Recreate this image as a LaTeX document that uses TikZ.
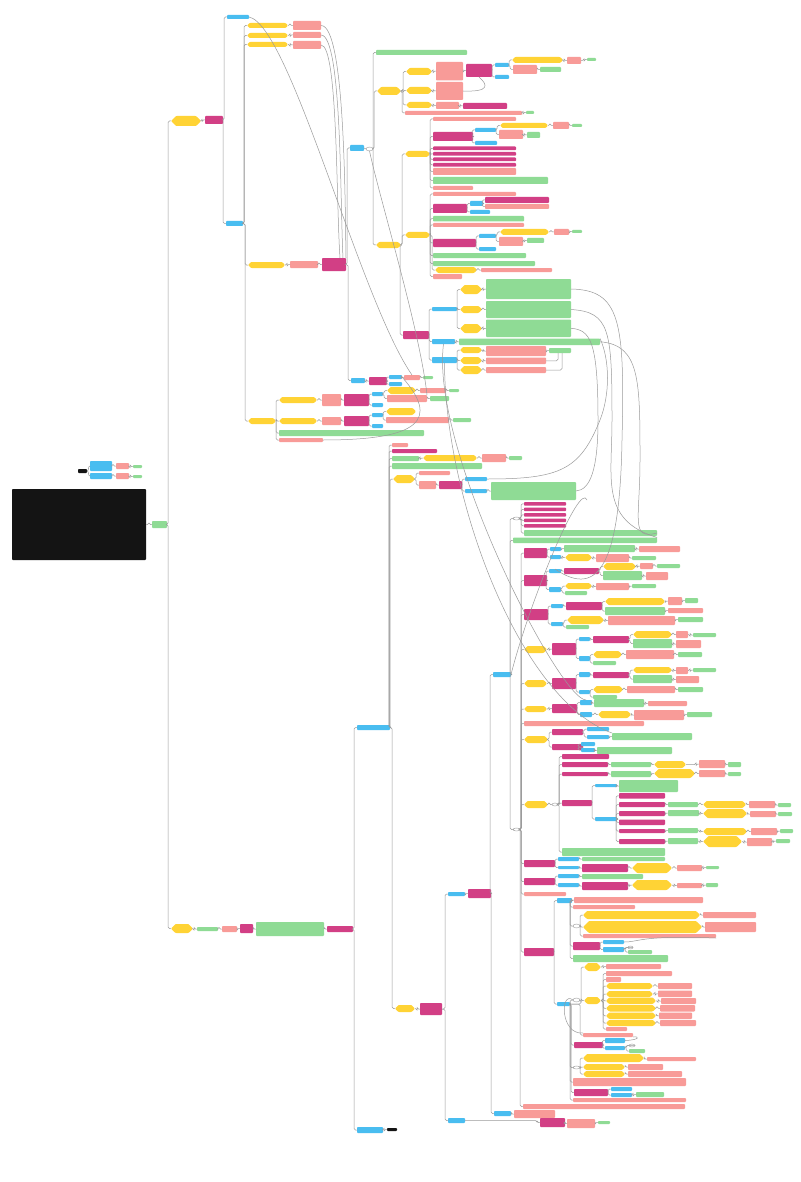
\documentclass[tikz,border=0pt]{standalone}
\usetikzlibrary{shapes.symbols,shapes.geometric,calc}
\definecolor{ylw}{HTML}{FFD335}
\definecolor{slm}{HTML}{F89B98}
\definecolor{grn}{HTML}{8FDB95}
\definecolor{blu}{HTML}{49BDF0}
\definecolor{mag}{HTML}{D23F85}
\definecolor{blk}{HTML}{141414}
\definecolor{lnc}{HTML}{9A9A9A}
\tikzset{
 bx/.style={inner sep=0pt,outer sep=0pt,rounded corners=0.8pt},
 Y/.style={bx,fill=ylw,shape=signal,signal to=east and west},
 P/.style={bx,fill=slm,rectangle},
 G/.style={bx,fill=grn,rectangle},
 C/.style={bx,fill=blu,rectangle},
 M/.style={bx,fill=mag,rectangle},
 K/.style={bx,fill=blk,rectangle},
 E/.style={inner sep=0pt,outer sep=0pt,ellipse,draw=lnc,line width=0.4pt,fill=white},
 cn/.style={draw=lnc,line width=0.5pt,rounded corners=1.5pt},
 cv/.style={draw=lnc,line width=0.5pt},
}
\newcommand\nd[6]{\node[#1,minimum width=#5pt,minimum height=#6pt] (#2) at ({#3+#5/2},{-#4-#6/2}) {};}
\newcommand\cc[2]{\draw[cn] (#1.east) -| ($(#2.west)+(-3,0)$) -- (#2.west);}
\newcommand\cm[2]{\foreach \cx in {#2}{\cc{#1}{\cx}}}
\begin{document}
\begin{tikzpicture}[x=1pt,y=1pt]
\fill[white] (0,0) rectangle (800,-1182);
\useasboundingbox (0,0) rectangle (800,-1182);
% ---------- left
\nd{K}{k0}{78}{469}{9}{4}
\nd{C}{c1}{90}{461}{22}{10}
\nd{C}{c2}{90}{473}{22}{6}
\nd{P}{p1}{116}{463}{13}{6}
\nd{P}{p2}{116}{473}{13}{6}
\nd{G}{g1}{133}{465}{9}{3}
\nd{G}{g2}{133}{475}{9}{3}
\nd{K}{kb}{12}{489}{134}{71}
\nd{G}{r}{152}{521}{15}{7}
\draw[cv] (k0.east) to[out=0,in=180] (c1.west);
\draw[cv] (k0.east) to[out=0,in=180] (c2.west);
\cm{c1}{p1}\cm{c2}{p2}\cm{p1}{g1}\cm{p2}{g2}
\cc{kb}{r}
\nd{Y}{yA}{171}{116}{30}{10}
\nd{Y}{yB}{171}{924}{22}{9}
\cm{r}{yA,yB}
% ---------- upper branch
\nd{M}{mA}{205}{116}{18}{8}
\cc{yA}{mA}
\nd{C}{cT}{227}{15}{22}{4}
\nd{C}{cU}{226}{221}{17}{5}
\cm{mA}{cT,cU}
\nd{Y}{yC}{248}{262}{37}{6}
\nd{Y}{yD}{248}{418}{28}{6}
\nd{Y}{y1}{247}{23}{41}{5}
\nd{Y}{y2}{247}{33}{41}{5}
\nd{Y}{y3}{247}{42}{41}{5}
\cm{cU}{y1,y2,y3,yC,yD}
\nd{P}{q1}{293}{21}{28}{9}
\nd{P}{q2}{293}{32}{28}{6}
\nd{P}{q3}{293}{41}{28}{8}
\cc{y1}{q1}\cc{y2}{q2}\cc{y3}{q3}
\nd{P}{pC}{290}{261}{28}{7}
\nd{M}{mC}{322}{258}{24}{13}
\cc{yC}{pC}\cc{pC}{mC}
\draw[cv] (q1.east) .. controls (345,-25) and (345,-200) .. (mC.north east);
\draw[cv] (q2.east) .. controls (342,-35) and (340,-200) .. ([xshift=-3pt]mC.north east);
\draw[cv] (q3.east) .. controls (338,-45) and (336,-200) .. ([xshift=-6pt]mC.north east);
\nd{C}{cV}{350}{145}{14}{6}
\nd{C}{cW}{351}{378}{14}{5}
\cm{mC}{cV,cW}
\nd{E}{e1}{366}{147}{7}{4}
\draw[cn] (cV.east) -- (e1.west);
\nd{G}{gA}{376}{50}{91}{5}
\nd{Y}{yE}{377}{87}{24}{8}
\nd{Y}{yF}{376}{242}{25}{6}
\cm{e1}{gA,yE,yF}
\nd{Y}{yE1}{406}{68}{26}{7}
\nd{Y}{yE2}{406}{87}{26}{7}
\nd{Y}{yE3}{406}{102}{26}{6}
\nd{P}{pE4}{405}{111}{117}{4}
\cm{yE}{yE1,yE2,yE3,pE4}
\nd{P}{pE1}{436}{62}{27}{18.5}
\nd{P}{pE2}{436}{82}{27}{18}
\nd{P}{pE3}{436}{102}{23}{7}
\cc{yE1}{pE1}\cc{yE2}{pE2}\cc{yE3}{pE3}
\nd{M}{mE1}{466}{64}{26}{13}
\nd{M}{mE3}{463}{103}{44}{6}
\cc{pE1}{mE1}\cc{pE3}{mE3}
\draw[cv] (pE2.east) .. controls (490,-92) and (488,-85) .. (mE1.south);
\nd{C}{cE1}{495}{63}{14}{4}
\nd{C}{cE2}{495}{75}{14}{4}
\cm{mE1}{cE1,cE2}
\nd{Y}{yE5}{512}{57}{51}{6}
\nd{P}{pE5}{513}{65}{24}{9}
\cm{cE1}{yE5,pE5}
\nd{P}{pE6}{567}{57}{14}{7}
\nd{G}{gE6}{587}{58}{9}{3}
\nd{G}{gE5}{540}{67}{21}{5}
\nd{G}{gE4}{526}{111}{8}{3}
\cc{yE5}{pE6}\cc{pE6}{gE6}\cc{pE5}{gE5}\cc{pE4}{gE4}
% yF subtree
\nd{Y}{yG}{405}{151}{25}{6}
\nd{Y}{yH}{405}{232}{25}{6}
\nd{M}{mX}{403}{331}{26}{8}
\cm{yF}{yG,yH,mX}
\nd{P}{pG0}{433}{117}{83}{4}
\nd{M}{mG1}{433}{132}{40}{9}
\nd{M}{mG2}{433}{146.5}{83}{3.6}
\nd{M}{mG3}{433}{152}{83}{3.6}
\nd{M}{mG4}{433}{157.5}{83}{3.6}
\nd{M}{mG5}{433}{163}{83}{3.6}
\nd{P}{pG6}{433}{168}{83}{7}
\nd{G}{gG7}{433}{177}{115}{7}
\nd{P}{pG8}{433}{186}{40}{4}
\cm{yG}{pG0,mG1,mG2,mG3,mG4,mG5,pG6,gG7,pG8}
\nd{C}{cG1}{475}{128}{21}{4}
\nd{C}{cG2}{475}{141}{22}{4}
\cm{mG1}{cG1,cG2}
\nd{Y}{yG1}{500}{123}{48}{5}
\nd{P}{pG1}{499}{130}{24}{9}
\cm{cG1}{yG1,pG1}
\nd{P}{pG2}{553}{122}{16}{7}
\nd{G}{gG2}{572}{124}{10}{3}
\nd{G}{gG1}{527}{132}{13}{6}
\cc{yG1}{pG2}\cc{pG2}{gG2}\cc{pG1}{gG1}
\nd{P}{pH0}{433}{192}{83}{4}
\nd{M}{mH1}{433}{204}{34}{9}
\nd{G}{gH2}{433}{216}{91}{5.5}
\nd{P}{pH3}{433}{223}{91}{4}
\nd{M}{mH4}{433}{239}{43}{8}
\nd{G}{gH5}{433}{253}{93}{5}
\nd{G}{gH6}{433}{261}{102}{5}
\nd{Y}{yH7}{435}{267}{42}{6}
\nd{P}{pH8}{433}{274}{29}{5}
\cm{yH}{pH0,mH1,gH2,pH3,mH4,gH5,gH6,yH7,pH8}
\nd{C}{cH1}{470}{201}{13}{5}
\nd{C}{cH2}{470}{210}{20}{4}
\cm{mH1}{cH1,cH2}
\nd{M}{mH5}{485}{197}{64}{6}
\nd{P}{pH5}{485}{204}{64}{5}
\cm{cH1}{mH5,pH5}
\nd{C}{cH3}{479}{234}{17}{4}
\nd{C}{cH4}{479}{247}{17}{4}
\cm{mH4}{cH3,cH4}
\nd{Y}{yH3}{500}{229}{49}{6}
\nd{P}{pH6}{499}{237}{24}{9}
\cm{cH3}{yH3,pH6}
\nd{P}{pH7}{554}{229}{15}{6}
\nd{G}{gH7}{572}{230}{10}{3}
\nd{G}{gH8}{527}{238}{17}{5}
\nd{P}{pH9}{481}{268}{71}{4}
\cc{yH3}{pH7}\cc{pH7}{gH7}\cc{pH6}{gH8}\cc{yH7}{pH9}
% mX subtree
\nd{C}{cX1}{432}{307}{25}{4}
\nd{C}{cX2}{432}{339}{23}{5}
\nd{C}{cX3}{432}{357}{25}{6}
\cm{mX}{cX1,cX2,cX3}
\nd{Y}{yX1}{460}{285}{22}{9}
\nd{Y}{yX2}{460}{306}{22}{7}
\nd{Y}{yX3}{460}{324}{22}{9}
\cm{cX1}{yX1,yX2,yX3}
\nd{G}{gX1}{486}{279}{85}{20}
\nd{G}{gX2}{486}{301}{85}{17}
\nd{G}{gX3}{486}{319.5}{85}{17.5}
\cc{yX1}{gX1}\cc{yX2}{gX2}\cc{yX3}{gX3}
\nd{G}{gX4}{459}{338.5}{141}{6.5}
\cc{cX2}{gX4}
\nd{Y}{yX4}{460}{347}{22}{6}
\nd{Y}{yX5}{460}{357}{22}{7}
\nd{Y}{yX6}{460}{366}{22}{8}
\cm{cX3}{yX4,yX5,yX6}
\nd{P}{pX4}{486}{346}{60}{10}
\nd{P}{pX5}{486}{357.5}{60}{6.5}
\nd{P}{pX6}{486}{367}{60}{6}
\cc{yX4}{pX4}\cc{yX5}{pX5}\cc{yX6}{pX6}
\nd{G}{gX5}{549}{348}{22}{5}
\cc{pX4}{gX5}
\draw[cn] (pX5.east) -| ($(gX5.south)+(-2,0)$);
\draw[cn] (pX6.east) -| ($(gX5.south)+(2,0)$);
% cW subtree
\nd{M}{mW}{369}{377}{18}{8}
\cc{cW}{mW}
\nd{C}{cW1}{389}{375}{13}{4}
\nd{C}{cW2}{389}{382}{13}{4}
\cm{mW}{cW1,cW2}
\nd{P}{pW}{404}{375}{16}{5}
\nd{G}{gW}{423}{376}{10}{3}
\cc{cW1}{pW}\cc{pW}{gW}
% yD subtree
\nd{Y}{yD1}{279}{397}{38}{6}
\nd{Y}{yD1b}{279}{418}{38}{6}
\nd{G}{gD}{279}{430}{145}{6}
\nd{P}{pD}{279}{438}{44}{4}
\cm{yD}{yD1,yD1b,gD,pD}
\nd{P}{pD1}{322}{394}{19}{12}
\nd{P}{pD1b}{322}{417}{19}{8}
\cc{yD1}{pD1}\cc{yD1b}{pD1b}
\nd{M}{mD1}{344}{394}{25}{12}
\nd{M}{mD2}{344}{416}{25}{10}
\cc{pD1}{mD1}\cc{pD1b}{mD2}
\nd{C}{cD1}{372}{392}{11}{4}
\nd{C}{cD2}{372}{403}{11}{4}
\cm{mD1}{cD1,cD2}
\nd{Y}{yD2}{387}{387}{29}{7}
\nd{P}{pD2}{387}{395}{40}{7}
\cm{cD1}{yD2,pD2}
\nd{P}{pD3}{420}{388}{26}{5}
\nd{G}{gD3}{449}{389}{10}{3}
\nd{G}{gD4}{430}{396}{19}{5}
\cc{yD2}{pD3}\cc{pD3}{gD3}\cc{pD2}{gD4}
\nd{C}{cD3}{372}{413}{11}{4}
\nd{C}{cD4}{372}{424}{11}{4}
\cm{mD2}{cD3,cD4}
\nd{Y}{yD3}{386}{408}{30}{7}
\nd{P}{pD4}{386}{417}{63}{6}
\cm{cD3}{yD3,pD4}
\nd{G}{gD5}{453}{418}{18}{4}
\cc{pD4}{gD5}
% ---------- lower branch
\nd{G}{gB}{197}{927}{21}{4}
\nd{P}{pB}{222}{926}{15}{6}
\nd{M}{mB}{240}{924}{13}{9}
\nd{G}{gBB}{256}{922}{68}{14}
\nd{M}{mBB}{327}{926}{26}{6}
\cc{yB}{gB}\cc{gB}{pB}\cc{pB}{mB}\cc{mB}{gBB}\cc{gBB}{mBB}
\nd{C}{cM}{357}{725}{33}{5}
\nd{C}{cN}{357}{1127}{26}{6}
\cm{mBB}{cM,cN}
\nd{K}{kN}{387}{1128}{10}{3}
\cc{cN}{kN}
\nd{P}{pM1}{392}{443}{16}{4}
\nd{M}{mM2}{392}{449}{45}{4}
\nd{G}{gM3}{392}{456}{27}{5}
\nd{G}{gM4}{392}{463}{90}{6}
\nd{Y}{yM5}{393}{475}{22}{8}
\nd{Y}{yM6}{395}{1005}{20}{7}
\cm{cM}{pM1,mM2,gM3,gM4,yM5,yM6}
\nd{Y}{yM3}{423}{455}{54}{6}
\nd{P}{pM3}{482}{454}{24}{8}
\nd{G}{gM3b}{509}{456}{13}{4}
\cc{gM3}{yM3}\cc{yM3}{pM3}\cc{pM3}{gM3b}
\nd{P}{pM5a}{419}{471}{31}{4}
\nd{P}{pM5b}{419}{481}{17}{8}
\cm{yM5}{pM5a,pM5b}
\nd{M}{mM5}{439}{481}{23}{8}
\cc{pM5b}{mM5}
\nd{C}{cM5a}{465}{477}{22}{4}
\nd{C}{cM5b}{465}{489}{22}{4}
\cm{mM5}{cM5a,cM5b}
\nd{G}{gM5}{491}{482}{85}{18}
\cc{cM5b}{gM5}
\nd{M}{mM6}{420}{1003}{22}{12}
\cc{yM6}{mM6}
\nd{C}{cQ}{448}{892}{17}{4}
\nd{C}{cQ2}{448}{1118}{17}{5}
\cm{mM6}{cQ,cQ2}
\nd{M}{mQ}{468}{889}{23}{9}
\cc{cQ}{mQ}
\nd{C}{cR}{493}{672}{18}{5}
\nd{C}{cR2}{494}{1111}{17}{5}
\cm{mQ}{cR,cR2}
\nd{P}{pR2}{514}{1110}{41}{8}
\cc{cR2}{pR2}
\nd{M}{mQ2}{540}{1118}{25}{9}
\nd{P}{pQ2}{567}{1119}{28}{9}
\nd{G}{gQ2}{598}{1121}{12}{3}
\cc{cQ2}{mQ2}\cc{mQ2}{pQ2}\cc{pQ2}{gQ2}
\nd{E}{e2}{513}{517}{7}{3}
\nd{G}{gR1}{513}{537.5}{144}{5.5}
\nd{E}{e3}{513}{828}{7}{3}
\cm{cR}{e2,gR1,e3}
\nd{M}{mR1}{524}{502}{42}{3.6}
\nd{M}{mR2}{524}{507.5}{42}{3.6}
\nd{M}{mR3}{524}{513}{42}{3.6}
\nd{M}{mR4}{524}{518.5}{42}{3.6}
\nd{M}{mR5}{524}{524}{42}{3.6}
\nd{G}{gR0}{524}{530}{133}{6}
\cm{e2}{mR1,mR2,mR3,mR4,mR5,gR0}
\nd{M}{mS1}{524}{548}{23}{10}
\nd{M}{mS2}{524}{575}{23}{11}
\nd{M}{mS3}{524}{609}{24}{11}
\nd{Y}{yS4}{524}{646}{23}{7}
\nd{Y}{yS5}{524}{680}{23}{7}
\nd{Y}{yS6}{524}{706}{23}{6}
\nd{P}{pS7}{524}{721}{120}{5}
\nd{Y}{yS8}{524}{736}{24}{7}
\nd{Y}{yS9}{524}{801}{24}{7}
\nd{M}{mS10}{524}{860}{31}{7}
\nd{M}{mS11}{524}{878}{31}{7}
\nd{P}{pS12}{524}{892}{42}{4}
\nd{M}{mS13}{524}{948}{30}{8}
\nd{P}{pS14}{523}{1104}{162}{5}
\cm{e3}{mS1,mS2,mS3,yS4,yS5,yS6,pS7,yS8,yS9,mS10,mS11,pS12,mS13,pS14}
% mS1
\nd{C}{cS1a}{550}{547}{11}{4}
\nd{C}{cS1b}{550}{555}{11}{4}
\cm{mS1}{cS1a,cS1b}
\nd{G}{gS1}{564}{545}{71}{7}
\nd{P}{pS1}{639}{546}{41}{6}
\cc{cS1a}{gS1}\cc{gS1}{pS1}
\nd{Y}{yS1}{565}{554}{27}{7}
\nd{P}{pS1b}{596}{554}{33}{8}
\nd{G}{gS1b}{632}{556}{24}{4}
\cc{cS1b}{yS1}\cc{yS1}{pS1b}\cc{pS1b}{gS1b}
% mS2
\nd{C}{cS2a}{549}{569}{12}{4}
\nd{C}{cS2b}{549}{587}{12}{5}
\cm{mS2}{cS2a,cS2b}
\nd{M}{mS2a}{564}{568}{35}{6}
\cc{cS2a}{mS2a}
\nd{Y}{yS2a}{603}{563}{33}{7}
\nd{G}{gS2a}{603}{571}{39}{9}
\cm{mS2a}{yS2a,gS2a}
\nd{P}{pS2a}{640}{563}{13}{6}
\nd{G}{gS2c}{657}{564}{23}{4}
\nd{P}{pS2b}{646}{572}{22}{8}
\cc{yS2a}{pS2a}\cc{pS2a}{gS2c}\cc{gS2a}{pS2b}
\nd{Y}{yS2b}{565}{583}{27}{6}
\nd{G}{gS2d}{565}{591}{22}{4}
\cm{cS2b}{yS2b,gS2d}
\nd{P}{pS2c}{596}{583}{33}{7}
\nd{G}{gS2e}{632}{584}{24}{4}
\cc{yS2b}{pS2c}\cc{pS2c}{gS2e}
% mS3
\nd{C}{cS3a}{551}{604}{12}{4}
\nd{C}{cS3b}{551}{622}{12}{4}
\cm{mS3}{cS3a,cS3b}
\nd{M}{mS3a}{566}{602}{36}{8}
\cc{cS3a}{mS3a}
\nd{Y}{yS3a}{605}{598}{60}{7}
\nd{G}{gS3a}{605}{607}{60}{8}
\cm{mS3a}{yS3a,gS3a}
\nd{P}{pS3a}{668}{597}{14}{8}
\nd{G}{gS3b}{685}{598}{13}{5}
\nd{P}{pS3b}{668}{608}{35}{5}
\cc{yS3a}{pS3a}\cc{pS3a}{gS3b}\cc{gS3a}{pS3b}
\nd{Y}{yS3b}{567}{616}{37}{8}
\nd{G}{gS3c}{566}{625}{23}{4}
\cm{cS3b}{yS3b,gS3c}
\nd{P}{pS3c}{608}{616}{67}{9}
\nd{G}{gS3d}{678}{617}{25}{5}
\cc{yS3b}{pS3c}\cc{pS3c}{gS3d}
% yS4
\nd{M}{mS4}{552}{643}{24}{12}
\cc{yS4}{mS4}
\nd{C}{cS4a}{579}{637}{11}{4}
\nd{C}{cS4b}{579}{656}{11}{5}
\cm{mS4}{cS4a,cS4b}
\nd{M}{mS4a}{593}{636}{36}{7}
\cc{cS4a}{mS4a}
\nd{Y}{yS4a}{633}{631}{39}{7}
\nd{G}{gS4a}{633}{639}{39}{9}
\cm{mS4a}{yS4a,gS4a}
\nd{P}{pS4a}{676}{631}{12}{7}
\nd{G}{gS4b}{693}{633}{23}{4}
\nd{P}{pS4b}{676}{640}{25}{8}
\cc{yS4a}{pS4a}\cc{pS4a}{gS4b}\cc{gS4a}{pS4b}
\nd{Y}{yS4b}{593}{651}{29}{7}
\nd{G}{gS4c}{593}{661}{23}{4}
\cm{cS4b}{yS4b,gS4c}
\nd{P}{pS4c}{626}{650}{48}{9}
\nd{G}{gS4d}{678}{652}{24}{5}
\cc{yS4b}{pS4c}\cc{pS4c}{gS4d}
% yS5
\nd{M}{mS5}{552}{678}{24}{11}
\cc{yS5}{mS5}
\nd{C}{cS5a}{579}{672}{11}{5}
\nd{C}{cS5b}{579}{690}{11}{4}
\cm{mS5}{cS5a,cS5b}
\nd{M}{mS5a}{593}{672}{36}{6}
\cc{cS5a}{mS5a}
\nd{Y}{yS5a}{633}{667}{39}{6}
\nd{G}{gS5a}{633}{675}{39}{8}
\cm{mS5a}{yS5a,gS5a}
\nd{P}{pS5a}{676}{667}{12}{7}
\nd{G}{gS5b}{693}{668}{23}{4}
\nd{P}{pS5b}{676}{676}{23}{7}
\cc{yS5a}{pS5a}\cc{pS5a}{gS5b}\cc{gS5a}{pS5b}
\nd{Y}{yS5b}{593}{686}{30}{7}
\nd{G}{gS5c}{593}{695}{24}{4}
\cm{cS5b}{yS5b,gS5c}
\nd{P}{pS5c}{627}{686}{48}{7}
\nd{G}{gS5d}{678}{687}{25}{5}
\cc{yS5b}{pS5c}\cc{pS5c}{gS5d}
% yS6
\nd{M}{mS6}{552}{704}{25}{9}
\cc{yS6}{mS6}
\nd{C}{cS6a}{580}{700}{12}{5}
\nd{C}{cS6b}{580}{712}{12}{5}
\cm{mS6}{cS6a,cS6b}
\nd{G}{gS6a}{594}{699}{50}{8}
\nd{P}{pS6a}{648}{701}{39}{5}
\cc{cS6a}{gS6a}\cc{gS6a}{pS6a}
\nd{Y}{yS6b}{598}{711}{33}{7}
\nd{P}{pS6b}{634}{710}{50}{10}
\nd{G}{gS6b}{687}{712}{25}{5}
\cc{cS6b}{yS6b}\cc{yS6b}{pS6b}\cc{pS6b}{gS6b}
% yS8
\nd{M}{mS8a}{552}{729}{31}{6}
\nd{M}{mS8b}{552}{744}{31}{6}
\cm{yS8}{mS8a,mS8b}
\nd{C}{cS8a}{587}{727}{22}{4}
\nd{C}{cS8b}{587}{735}{22}{4}
\cm{mS8a}{cS8a,cS8b}
\nd{G}{gS8}{612}{733}{80}{7}
\cc{cS8b}{gS8}
\nd{C}{cS8c}{581}{742}{14}{4}
\nd{C}{cS8d}{581}{748}{14}{4}
\cm{mS8b}{cS8c,cS8d}
\nd{G}{gS8d}{597}{747}{75}{7}
\cc{cS8d}{gS8d}
% yS9
\nd{E}{e4}{552}{803}{6}{3}
\cc{yS9}{e4}
\nd{M}{mS9a}{562}{754}{47}{5}
\nd{M}{mS9b}{562}{762}{46}{5}
\nd{M}{mS9c}{562}{772}{46}{4}
\nd{M}{mS9d}{562}{800}{30}{6}
\nd{G}{gS9e}{562}{848}{103}{8}
\cm{e4}{mS9a,mS9b,mS9c,mS9d,gS9e}
\nd{G}{gS9b}{611}{762}{40}{5}
\nd{Y}{yS9b}{654}{761}{32}{7}
\nd{P}{pS9b}{699}{760}{26}{8}
\nd{G}{gS9bb}{728}{762}{13}{5}
\cc{mS9b}{gS9b}\cc{gS9b}{yS9b}\cc{yS9b}{pS9b}\cc{pS9b}{gS9bb}
\nd{G}{gS9c}{611}{771}{40}{6}
\nd{Y}{yS9c}{654}{769}{41}{9}
\nd{P}{pS9c}{699}{770}{26}{7}
\nd{G}{gS9cc}{728}{772}{13}{4}
\cc{mS9c}{gS9c}\cc{gS9c}{yS9c}\cc{yS9c}{pS9c}\cc{pS9c}{gS9cc}
\nd{C}{cS9a}{595}{784}{22}{3}
\nd{C}{cS9b}{595}{817}{22}{4}
\cm{mS9d}{cS9a,cS9b}
\nd{G}{gS9a}{619}{780}{59}{12}
\cc{cS9a}{gS9a}
\nd{M}{mT1}{619}{793}{46}{5.5}
\nd{M}{mT2}{619}{802}{46}{5}
\nd{M}{mT3}{619}{811}{46}{5}
\nd{M}{mT4}{619}{819.5}{46}{5.5}
\nd{M}{mT5}{619}{829}{46}{4}
\nd{M}{mT6}{619}{839}{46}{5}
\cm{cS9b}{mT1,mT2,mT3,mT4,mT5,mT6}
\nd{G}{gT2}{668}{802}{30}{5}
\nd{Y}{yT2}{703}{801}{43}{7}
\nd{P}{pT2}{749}{801}{26}{7}
\nd{G}{gT2b}{778}{803}{13}{4}
\cc{mT2}{gT2}\cc{gT2}{yT2}\cc{yT2}{pT2}\cc{pT2}{gT2b}
\nd{G}{gT3}{668}{810}{31}{6}
\nd{Y}{yT3}{703}{809}{44}{9}
\nd{P}{pT3}{750}{811}{26}{6}
\nd{G}{gT3b}{778}{812}{14}{4}
\cc{mT3}{gT3}\cc{gT3}{yT3}\cc{yT3}{pT3}\cc{pT3}{gT3b}
\nd{G}{gT5}{668}{828}{30}{5}
\nd{Y}{yT5}{703}{828}{44}{7}
\nd{P}{pT5}{751}{828}{26}{7}
\nd{G}{gT5b}{780}{829}{13}{4}
\cc{mT5}{gT5}\cc{gT5}{yT5}\cc{yT5}{pT5}\cc{pT5}{gT5b}
\nd{G}{gT6}{668}{838}{30}{6}
\nd{Y}{yT6}{703}{836}{39}{11}
\nd{P}{pT6}{747}{838}{25}{8}
\nd{G}{gT6b}{776}{839}{14}{4}
\cc{mT6}{gT6}\cc{gT6}{yT6}\cc{yT6}{pT6}\cc{pT6}{gT6b}
% mS10, mS11
\nd{C}{cS10a}{558}{857}{21}{4}
\nd{C}{cS10b}{558}{866}{21}{3}
\cm{mS10}{cS10a,cS10b}
\nd{G}{gS10}{582}{857}{83}{4}
\cc{cS10a}{gS10}
\nd{M}{mS10b}{582}{864}{46}{8}
\nd{Y}{yS10}{632}{863}{40}{10}
\nd{P}{pS10}{677}{865}{25}{6}
\nd{G}{gS10b}{706}{866}{13}{3}
\cc{cS10b}{mS10b}\cc{mS10b}{yS10}\cc{yS10}{pS10}\cc{pS10}{gS10b}
\nd{C}{cS11a}{558}{874}{21}{4}
\nd{C}{cS11b}{558}{883}{21}{4}
\cm{mS11}{cS11a,cS11b}
\nd{G}{gS11}{582}{874}{61}{5}
\cc{cS11a}{gS11}
\nd{M}{mS11b}{582}{882}{46}{8}
\nd{Y}{yS11}{632}{880}{40}{10}
\nd{P}{pS11}{677}{883}{25}{5}
\nd{G}{gS11b}{706}{883}{12}{4}
\cc{cS11b}{mS11b}\cc{mS11b}{yS11}\cc{yS11}{pS11}\cc{pS11}{gS11b}
% mS13
\nd{C}{cU1}{557}{898}{15}{5}
\nd{C}{cU2}{557}{1002}{13}{4}
\cm{mS13}{cU1,cU2}
\nd{P}{pU1}{574}{897}{129}{6}
\nd{P}{pU2}{573}{905}{62}{4}
\nd{E}{e5}{573}{924}{7}{4}
\nd{M}{mU3}{573}{942}{27}{8}
\nd{G}{gU4}{573}{955}{95}{7}
\cm{cU1}{pU1,pU2,e5,mU3,gU4}
\nd{Y}{yU1}{583}{911}{117}{8}
\nd{Y}{yU2}{583}{921}{119}{12}
\nd{P}{pU3}{583}{934}{133}{4}
\cm{e5}{yU1,yU2,pU3}
\nd{P}{pU4}{703}{912}{53}{6}
\nd{P}{pU5}{705}{922}{51}{10}
\cc{yU1}{pU4}\cc{yU2}{pU5}
\nd{C}{cU3a}{603}{940}{21}{4}
\nd{C}{cU3b}{603}{947}{21}{5}
\cm{mU3}{cU3a,cU3b}
\nd{E}{e7}{628}{946}{5}{3}
\nd{G}{gU5}{628}{950}{24}{4}
\cc{cU3b}{e7}\cc{e7}{gU5}
\draw[cv] (cU3a.east) .. controls (640,-942) and (640,-935) .. (pU3.south east);
\nd{Y}{yV0}{584}{963}{17}{8}
\nd{E}{e6}{573}{998}{7}{4}
\nd{P}{pV9}{583}{1033}{50}{4}
\nd{M}{mV10}{574}{1042}{29}{6}
\nd{E}{e8}{573}{1066}{7}{3}
\nd{P}{pV11}{573}{1078}{113}{8}
\nd{M}{mV12}{574}{1089}{34}{7}
\nd{P}{pV13}{573}{1098}{113}{4}
\cm{cU2}{yV0,e6,pV9,mV10,e8,pV11,mV12,pV13}
\nd{P}{pV0}{606}{964}{55}{5}
\cc{yV0}{pV0}
\nd{Y}{yV1}{584}{997}{17}{7}
\cc{e6}{yV1}
\nd{P}{pV1}{606}{971}{66}{5}
\nd{P}{pV2}{606}{977}{15}{5}
\nd{Y}{yV3}{606}{983}{47}{6}
\nd{Y}{yV4}{606}{991}{47}{6}
\nd{Y}{yV5}{606}{997.5}{50}{6.5}
\nd{Y}{yV6}{606}{1005}{50}{6.5}
\nd{Y}{yV7}{606}{1012.5}{50}{6.5}
\nd{Y}{yV8}{606}{1020}{50}{6}
\nd{P}{pV8b}{606}{1027}{21}{4}
\cm{yV1}{pV1,pV2,yV3,yV4,yV5,yV6,yV7,yV8,pV8b}
\nd{P}{pV3}{658}{983}{34}{6}
\nd{P}{pV4}{658}{990.5}{34}{6.5}
\nd{P}{pV5}{661}{998}{35}{6}
\nd{P}{pV6}{660}{1005}{35}{6.5}
\nd{P}{pV7}{659}{1012.5}{33}{6.5}
\nd{P}{pV8}{660}{1020}{36}{6}
\cc{yV3}{pV3}\cc{yV4}{pV4}\cc{yV5}{pV5}\cc{yV6}{pV6}\cc{yV7}{pV7}\cc{yV8}{pV8}
\nd{C}{cV10a}{605}{1038}{20}{5}
\nd{C}{cV10b}{605}{1046}{20}{4}
\cm{mV10}{cV10a,cV10b}
\nd{E}{e9}{629}{1044}{6}{3}
\nd{G}{gV10}{629}{1049}{16}{4}
\cc{cV10b}{e9}\cc{e9}{gV10}
\draw[cv] (cV10a.east) .. controls (640,-1040) and (640,-1036) .. (pV9.south east);
\nd{Y}{yW1}{583}{1054}{61}{8}
\nd{Y}{yW2}{583}{1064}{42}{6}
\nd{Y}{yW3}{583}{1071}{42}{6}
\cm{e8}{yW1,yW2,yW3}
\nd{P}{pW1}{647}{1057}{49}{4}
\nd{P}{pW2}{628}{1064}{35}{6}
\nd{P}{pW3}{628}{1071}{54}{6}
\cc{yW1}{pW1}\cc{yW2}{pW2}\cc{yW3}{pW3}
\nd{C}{cV12a}{611}{1087}{21}{4}
\nd{C}{cV12b}{611}{1093}{21}{4}
\cm{mV12}{cV12a,cV12b}
\nd{G}{gV12}{636}{1092}{28}{5}
\cc{cV12b}{gV12}
% ---------- long cross links
\draw[cv] (cT.east) .. controls (290,-25) and (360,-300) .. (pW.north);
\draw[cv] (e1.south) .. controls (380,-200) and (420,-330) .. (pD2.north east);
\draw[cv] (pD.east) .. controls (420,-440) and (440,-420) .. (cW1.east);
\draw[cv] (gX1.east) .. controls (620,-290) and (625,-320) .. (622,-440) .. controls (620,-560) and (600,-600) .. (cS2a.north);
\draw[cv] (gX2.east) .. controls (610,-312) and (612,-330) .. (612,-420) .. controls (612,-480) and (600,-520) .. (gR1.north east);
\draw[cv] (gX3.east) .. controls (590,-330) and (598,-340) .. (598,-420) .. controls (598,-470) and (590,-490) .. (gM5.east);
\draw[cv] (gX4.east) .. controls (640,-345) and (640,-380) .. (640,-460) .. controls (640,-520) and (630,-540) .. (gR0.east);
\draw[cv] (cX2.south) .. controls (430,-450) and (560,-700) .. (cS6a.north);
\draw[cv] (cX3.south) .. controls (445,-500) and (520,-700) .. (gS8.north west);
\draw[cv] (cM5a.east) .. controls (560,-479) and (580,-470) .. (600,-420) .. controls (610,-395) and (610,-360) .. (gX4.north east);
\draw[cv] (cR.east) .. controls (530,-600) and (580,-480) .. (587,-500);
\draw[cv] (e6.west) .. controls (560,-990) and (560,-1035) .. (pV9.north west);
\end{tikzpicture}
\end{document}
